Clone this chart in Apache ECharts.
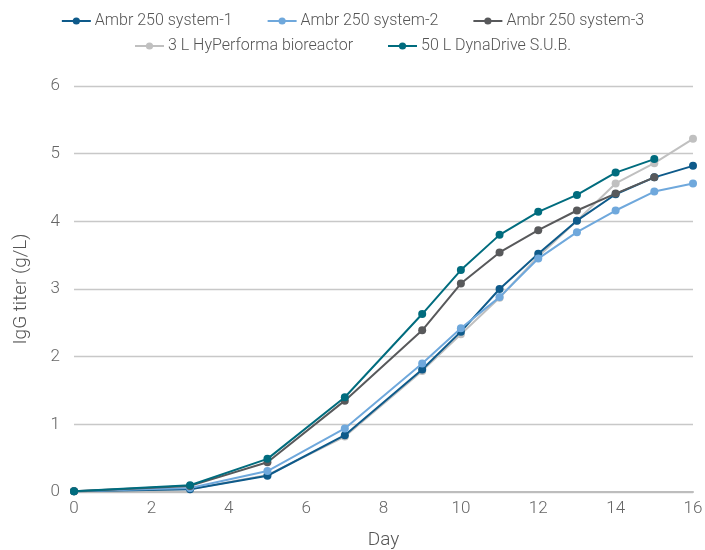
<!DOCTYPE html>
<html><head><meta charset="utf-8">
<script src="https://cdn.jsdelivr.net/npm/echarts@6/dist/echarts.min.js"></script>
<style>html,body{margin:0;padding:0;background:#fff}#c{width:705px;height:550px}</style>
</head><body><div id="c"></div>
<script>
const days = [0, 3, 5, 7, 9, 10, 11, 12, 13, 14, 15, 16];
const seriesNames = ["Ambr 250 system-1", "Ambr 250 system-2", "Ambr 250 system-3", "3 L HyPerforma bioreactor", "50 L DynaDrive S.U.B."];
const ambr1 = [0.01, 0.04, 0.24, 0.84, 1.81, 2.37, 3.0, 3.52, 4.01, 4.40, 4.65, 4.82];
const ambr2 = [0.01, 0.06, 0.31, 0.94, 1.90, 2.42, 2.88, 3.45, 3.84, 4.16, 4.44, 4.56];
const ambr3 = [0.01, 0.09, 0.44, 1.35, 2.39, 3.08, 3.54, 3.87, 4.16, 4.41, 4.65, null];
const hyperforma = [0.01, 0.04, 0.25, 0.82, 1.79, 2.33, 2.87, 3.48, 4.01, 4.56, 4.86, 5.22];
const dynadrive = [0.01, 0.10, 0.49, 1.40, 2.63, 3.28, 3.80, 4.14, 4.39, 4.72, 4.92, null];
const xTicks = [0, 2, 4, 6, 8, 10, 12, 14, 16];
const yTicks = [0, 1, 2, 3, 4, 5, 6];
const colors = ["#0e5a8a", "#6fa8dc", "#58595b", "#c0c0c0", "#006c7e"];
const allData = [ambr1, ambr2, ambr3, hyperforma, dynadrive];

const font = "Roboto";
const chart = echarts.init(document.getElementById('c'));
const legendCommon = {
  itemWidth: 29, itemHeight: 9, itemGap: 34,
  textStyle: {fontFamily: font, fontWeight: 300, fontSize: 16, color: '#555', padding: [0, 0, 0, -1]}
};
chart.setOption({
  animation: false,
  color: colors,
  legend: [
    Object.assign({top: 8, left: 'center', data: seriesNames.slice(0, 3)}, legendCommon),
    Object.assign({top: 33, left: 'center', data: seriesNames.slice(3)}, legendCommon)
  ],
  grid: {left: 74, right: 12, top: 86, bottom: 58, containLabel: false, outerBoundsMode: 'none'},
  xAxis: {
    type: 'value', min: xTicks[0], max: xTicks[xTicks.length - 1], interval: 2,
    name: 'Day', nameLocation: 'middle', nameGap: 39,
    nameTextStyle: {fontFamily: font, fontWeight: 300, fontSize: 19, color: '#555'},
    axisLine: {show: true, lineStyle: {color: '#bdbdbd', width: 2}},
    axisTick: {show: false},
    splitLine: {show: false},
    axisLabel: {fontFamily: font, fontWeight: 300, fontSize: 17, color: '#666', margin: 8}
  },
  yAxis: {
    type: 'value', min: yTicks[0], max: yTicks[yTicks.length - 1], interval: 1,
    name: 'IgG titer (g/L)', nameLocation: 'middle', nameGap: 43,
    nameTextStyle: {fontFamily: font, fontWeight: 300, fontSize: 19, color: '#555'},
    axisLine: {show: false}, axisTick: {show: false},
    splitLine: {lineStyle: {color: '#c8c8c8', width: 1.3}},
    axisLabel: {fontFamily: font, fontWeight: 300, fontSize: 17, color: '#666', margin: 14}
  },
  series: seriesNames.map((n, i) => ({
    name: n, type: 'line',
    data: days.map((d, j) => [d, allData[i][j]]).filter(p => p[1] !== null),
    symbol: 'circle', symbolSize: 8,
    lineStyle: {width: 2, color: colors[i]},
    itemStyle: {color: colors[i]},
    z: [2, 3, 4, 1, 5][i]
  }))
});
</script></body></html>
